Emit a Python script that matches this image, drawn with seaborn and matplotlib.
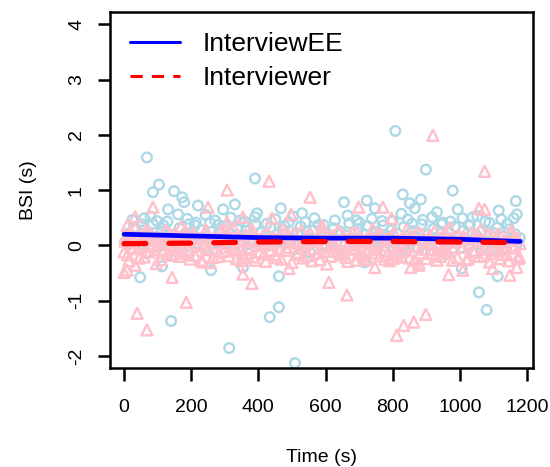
import matplotlib
matplotlib.use("Agg")
import matplotlib.pyplot as plt
import seaborn as sns
import pandas as pd
from matplotlib.lines import Line2D

# ---------------- data ----------------
# InterviewEE (light-blue circles): core band + upper band + outliers
time_ee_core = [2, 11, 19, 30, 38, 47, 57, 66, 74, 85,
                93, 102, 111, 121, 129, 138, 148, 156, 165, 175,
                184, 192, 203, 211, 220, 229, 239, 247, 256, 266,
                274, 283, 293, 301, 310, 320, 328, 337, 347, 355,
                364, 374, 382, 391, 401, 409, 418, 428, 436, 445,
                455, 463, 472, 482, 490, 499, 509, 517, 526, 536,
                544, 553, 563, 571, 580, 590, 598, 607, 617, 625,
                634, 644, 652, 661, 671, 679, 688, 698, 706, 715,
                725, 733, 742, 752, 760, 769, 779, 787, 796, 806,
                814, 823, 833, 841, 850, 860, 868, 877, 887, 895,
                904, 914, 922, 931, 941, 949, 958, 968, 976, 985,
                995, 1003, 1012, 1022, 1030, 1039, 1049, 1057, 1066, 1076,
                1084, 1093, 1103, 1111, 1120, 1130, 1138, 1147, 1157, 1165,
                1174, 1179]
bsi_ee_core = [0.05, 0.21, -0.08, 0.33, 0.12, 0.02, 0.27, -0.14, 0.18, 0.39,
               0.08, -0.03, 0.25, 0.14, 0.43, -0.11, 0.19, 0.06, 0.31, 0.00,
               0.22, -0.18, 0.10, 0.36, 0.04, 0.28, -0.06, 0.16, 0.41, 0.09,
               -0.12, 0.24, 0.13, 0.35, 0.01, 0.20, -0.09, 0.30, 0.07, 0.17,
               0.26, -0.15, 0.11, 0.38, 0.03, 0.23, -0.04, 0.15, 0.32, 0.08,
               0.19, -0.10, 0.29, 0.05, 0.42, 0.12, -0.07, 0.21, 0.34, 0.02,
               0.16, -0.13, 0.27, 0.09, 0.37, 0.00, 0.22, 0.14, -0.05, 0.31,
               0.06, 0.25, -0.17, 0.18, 0.40, 0.11, 0.03, 0.29, -0.08, 0.20,
               0.35, 0.07, -0.02, 0.24, 0.13, 0.44, -0.11, 0.17, 0.28, 0.04,
               0.21, -0.14, 0.33, 0.10, 0.01, 0.26, 0.15, -0.06, 0.38, 0.08,
               0.19, -0.09, 0.30, 0.12, 0.02, 0.41, -0.16, 0.23, 0.06, 0.34,
               0.14, -0.04, 0.27, 0.09, 0.36, -0.12, 0.18, 0.03, 0.25, 0.43,
               0.07, -0.10, 0.22, 0.32, 0.00, 0.16, -0.07, 0.29, 0.11, 0.20,
               0.05, 0.13]
time_ee_upper = [25, 52, 79, 98, 117, 188, 214, 243, 281, 318,
                 360, 396, 425, 451, 478, 504, 540, 567, 594, 628,
                 666, 702, 738, 772, 800, 826, 858, 890, 918, 946,
                 972, 1008, 1026, 1052, 1088, 1124, 1142, 1170]
bsi_ee_upper = [0.46, 0.38, 0.52, 0.44, 0.36, 0.48, 0.41, 0.55, 0.37, 0.50,
                0.43, 0.58, 0.39, 0.47, 0.35, 0.52, 0.42, 0.49, 0.37, 0.45,
                0.54, 0.40, 0.48, 0.36, 0.44, 0.57, 0.39, 0.46, 0.51, 0.38,
                0.43, 0.49, 0.36, 0.53, 0.41, 0.47, 0.39, 0.56]
time_ee_out = [68, 104, 86, 149, 173, 179, 220, 131, 161, 295, 330, 390, 60, 271,
               193, 345, 467, 655, 723, 747, 530, 390, 693, 808, 899, 830, 851,
               884, 866, 979, 932, 994, 1116, 1167, 1161, 1039, 845, 48, 113,
               259, 140, 313, 354, 461, 461, 434, 509, 717, 1057, 1080, 1113,
               842, 1006]
bsi_ee_out = [1.59, 1.10, 0.96, 0.98, 0.87, 0.78, 0.72, 0.65, 0.56, 0.65, 0.74,
              1.21, 0.49, 0.45, 0.38, 0.45, 0.67, 0.78, 0.81, 0.67, 0.58, 0.51,
              0.45, 2.07, 1.37, 0.92, 0.76, 0.83, 0.67, 0.99, 0.60, 0.65, 0.63,
              0.80, 0.49, 0.51, 0.47, -0.58, -0.38, -0.45, -1.37, -1.86, -0.40,
              -0.56, -1.12, -1.30, -2.13, -0.31, -0.85, -1.17, -0.56, -0.11, -0.42]

# Interviewer (pink triangles): two interleaved core sets + outliers
time_er_core = [0, 6, 14, 24, 33, 41, 50, 60, 69, 78,
                88, 96, 105, 115, 124, 133, 142, 151, 160, 170,
                179, 188, 197, 206, 215, 225, 234, 243, 252, 261,
                270, 280, 289, 298, 307, 316, 326, 335, 344, 353,
                362, 371, 381, 390, 399, 408, 417, 427, 436, 445,
                454, 463, 473, 482, 491, 500, 509, 519, 528, 537,
                546, 556, 565, 574, 583, 592, 602, 611, 620, 629,
                638, 648, 657, 666, 675, 684, 694, 703, 712, 721,
                731, 740, 749, 758, 767, 777, 786, 795, 804, 813,
                823, 832, 841, 850, 859, 869, 878, 887, 896, 905,
                915, 924, 933, 942, 951, 961, 970, 979, 988, 997,
                1007, 1016, 1025, 1034, 1043, 1053, 1062, 1071, 1080, 1089,
                1099, 1108, 1117, 1126, 1135, 1145, 1154, 1163, 1172, 1178]
bsi_er_core = [-0.12, 0.18, -0.28, 0.05, 0.31, -0.06, 0.12, -0.21, 0.24, -0.02,
               0.09, -0.33, 0.15, -0.10, 0.27, 0.01, -0.18, 0.20, -0.05, 0.34,
               -0.14, 0.07, -0.25, 0.22, -0.01, 0.13, -0.30, 0.28, -0.08, 0.10,
               0.03, -0.20, 0.25, -0.11, 0.16, -0.03, 0.32, -0.24, 0.08, -0.15,
               0.19, -0.07, 0.29, -0.27, 0.11, 0.00, -0.16, 0.23, -0.09, 0.14,
               -0.22, 0.06, 0.30, -0.04, 0.17, -0.31, 0.09, -0.13, 0.26, 0.02,
               -0.19, 0.21, -0.06, 0.12, -0.26, 0.33, 0.04, -0.11, 0.18, -0.02,
               0.27, -0.17, 0.08, -0.29, 0.15, -0.05, 0.22, 0.01, -0.21, 0.11,
               -0.08, 0.30, -0.14, 0.05, 0.19, -0.25, 0.13, -0.03, 0.24, -0.18,
               0.07, -0.10, 0.28, -0.23, 0.16, 0.00, -0.32, 0.20, -0.07, 0.10,
               -0.15, 0.25, 0.03, -0.20, 0.14, -0.09, 0.31, -0.27, 0.06, 0.18,
               -0.04, 0.12, -0.24, 0.23, -0.12, 0.08, 0.29, -0.19, 0.02, -0.30,
               0.17, -0.06, 0.21, -0.16, 0.09, -0.28, 0.26, -0.01, 0.13, -0.22]
time_er_core2 = [3, 10, 18, 28, 36, 45, 55, 64, 73, 83,
                 92, 100, 110, 119, 128, 137, 146, 156, 165, 174,
                 183, 193, 202, 211, 220, 229, 238, 248, 257, 266,
                 275, 284, 294, 303, 312, 321, 330, 340, 349, 358,
                 367, 376, 386, 395, 404, 413, 422, 431, 441, 450,
                 459, 468, 477, 487, 496, 505, 514, 523, 533, 542,
                 551, 560, 569, 579, 588, 597, 606, 615, 625, 634,
                 643, 652, 661, 670, 680, 689, 698, 707, 716, 726,
                 735, 744, 753, 762, 772, 781, 790, 799, 808, 818,
                 827, 836, 845, 854, 864, 873, 882, 891, 900, 910,
                 919, 928, 937, 947, 956, 965, 974, 983, 993, 1002,
                 1011, 1020, 1029, 1039, 1048, 1057, 1066, 1075, 1085, 1094,
                 1103, 1112, 1121, 1131, 1140, 1149, 1158, 1167, 1175, 1180]
bsi_er_core2 = [0.08, -0.17, 0.22, -0.04, 0.14, -0.23, 0.01, 0.27, -0.12, 0.19,
                -0.07, 0.11, -0.26, 0.04, -0.15, 0.21, -0.02, 0.13, -0.20, 0.06,
                0.25, -0.09, 0.16, -0.18, 0.03, -0.27, 0.20, -0.05, 0.12, -0.22,
                0.15, -0.13, 0.07, 0.29, -0.19, 0.02, -0.08, 0.18, -0.28, 0.10,
                -0.04, 0.24, -0.21, 0.06, -0.12, 0.17, -0.29, 0.09, 0.01, -0.17,
                0.13, -0.25, 0.20, -0.09, 0.05, 0.23, -0.16, 0.00, -0.23, 0.15,
                0.07, -0.28, 0.10, -0.14, 0.26, -0.03, 0.16, -0.20, 0.04, -0.10,
                -0.12, 0.19, -0.22, 0.03, 0.24, -0.07, -0.16, 0.12, 0.06, -0.26,
                0.14, -0.05, 0.21, -0.19, 0.00, 0.09, -0.28, 0.17, -0.11, 0.04,
                -0.21, 0.15, -0.02, 0.11, -0.27, 0.22, -0.14, 0.05, -0.24, 0.18,
                0.02, -0.18, 0.13, -0.06, 0.25, -0.13, 0.08, -0.03, -0.22, 0.11,
                0.16, -0.26, 0.04, -0.09, 0.19, -0.20, 0.10, -0.07, 0.21, -0.15,
                -0.10, 0.14, -0.24, 0.06, -0.17, 0.23, -0.05, 0.12, -0.19, 0.03]
time_er_out = [307, 86, 33, 250, 9, 354, 307, 432, 554, 699, 771, 497, 589, 440,
               920, 1074, 1057, 1074, 797, 9, 33, 143, 256, 39, 68, 185, 354, 381,
               354, 0, 491, 610, 664, 604, 747, 693, 812, 833, 863, 899, 854, 878,
               801, 967, 1009, 1098, 1149, 1170, 1173, 932]
bsi_er_out = [1.00, 0.69, 0.52, 0.69, 0.36, 0.51, 0.42, 1.16, 0.87, 0.69, 0.69,
              0.56, 0.36, 0.49, 1.99, 1.34, 0.67, 0.65, 0.49, -0.45, -0.36, -0.58,
              -0.31, -1.23, -1.53, -1.03, -0.52, -0.69, -0.22, -0.49, -0.42, -0.67,
              -0.90, -0.34, -0.40, -0.27, -1.63, -1.45, -1.39, -1.25, -0.40, -0.36,
              -0.24, -0.53, -0.45, -0.42, -0.54, -0.40, -0.24, -0.27]

# smoothed trend lines
trend_time = [0, 200, 400, 600, 800, 1000, 1180]
trend_ee = [0.20, 0.17, 0.14, 0.13, 0.13, 0.11, 0.07]
trend_er = [0.03, 0.04, 0.06, 0.07, 0.07, 0.06, 0.05]

series_labels = ["InterviewEE", "Interviewer"]
x_ticks = [0, 200, 400, 600, 800, 1000, 1200]
y_ticks = [-2, -1, 0, 1, 2, 3, 4]

# ---------------- plot ----------------
sns.set_theme(style="white")
plt.rcParams["font.family"] = ["Liberation Sans", "DejaVu Sans"]
plt.rcParams["text.color"] = "black"
plt.rcParams["axes.labelcolor"] = "black"
plt.rcParams["xtick.color"] = "black"
plt.rcParams["ytick.color"] = "black"

fig = plt.figure(figsize=(5.5, 4.67), dpi=100)
ax = fig.add_axes([0.200, 0.212, 0.769, 0.762])

df_ee = pd.DataFrame({"t": time_ee_core + time_ee_upper + time_ee_out,
                      "b": bsi_ee_core + bsi_ee_upper + bsi_ee_out})
df_er = pd.DataFrame({"t": time_er_core + time_er_core2 + time_er_out,
                      "b": bsi_er_core + bsi_er_core2 + bsi_er_out})

sns.scatterplot(data=df_ee, x="t", y="b", ax=ax, marker="o", s=48,
                facecolors="none", edgecolor="#ADD8E6", linewidth=1.7, legend=False, zorder=2)
sns.scatterplot(data=df_er, x="t", y="b", ax=ax, marker="^", s=62,
                facecolors="none", edgecolor="#FFC0CB", linewidth=1.7, legend=False, zorder=3)

df_tr = pd.DataFrame({"t": trend_time, "ee": trend_ee, "er": trend_er})
sns.lineplot(data=df_tr, x="t", y="ee", ax=ax, color="#0000FF", linewidth=3.4, zorder=4)
sns.lineplot(data=df_tr, x="t", y="er", ax=ax, color="#FF0000", linewidth=3.8, zorder=5)
ax.lines[-1].set_dashes([4.1, 4.4])
ax.lines[-1].set_dash_capstyle("round")

ax.set_xlim(-42, 1218)
ax.set_ylim(-2.22, 4.22)
ax.set_xticks(x_ticks)
ax.set_yticks(y_ticks)
ax.set_xticklabels([str(v) for v in x_ticks], fontsize=14)
ax.set_yticklabels([str(v) for v in y_ticks], fontsize=14, rotation=90, va="center")
ax.tick_params(axis="both", which="major", direction="out", length=9, width=1.8,
               bottom=True, left=True, color="black", labelcolor="black")
ax.tick_params(axis="x", pad=13)
ax.tick_params(axis="y", pad=9)

for sp in ax.spines.values():
    sp.set_visible(True)
    sp.set_linewidth(1.8)
    sp.set_color("black")

ax.set_xlabel("Time (s)", fontsize=14, labelpad=24, color="black")
ax.set_ylabel("BSI (s)", fontsize=14, labelpad=22, color="black")
ax.grid(False)

handles = [Line2D([0], [0], color="#0000FF", linewidth=2.2),
           Line2D([0], [0], color="#FF0000", linewidth=2.2, linestyle=(0, (4, 3)))]
leg = ax.legend(handles, series_labels, loc="upper left", frameon=False, fontsize=19,
                handlelength=1.9, handletextpad=0.85, labelspacing=0.4,
                bbox_to_anchor=(0.0, 1.0), borderaxespad=0.45, borderpad=0.3)
for txt in leg.get_texts():
    txt.set_color("black")

fig.savefig("out.png", dpi=100)
